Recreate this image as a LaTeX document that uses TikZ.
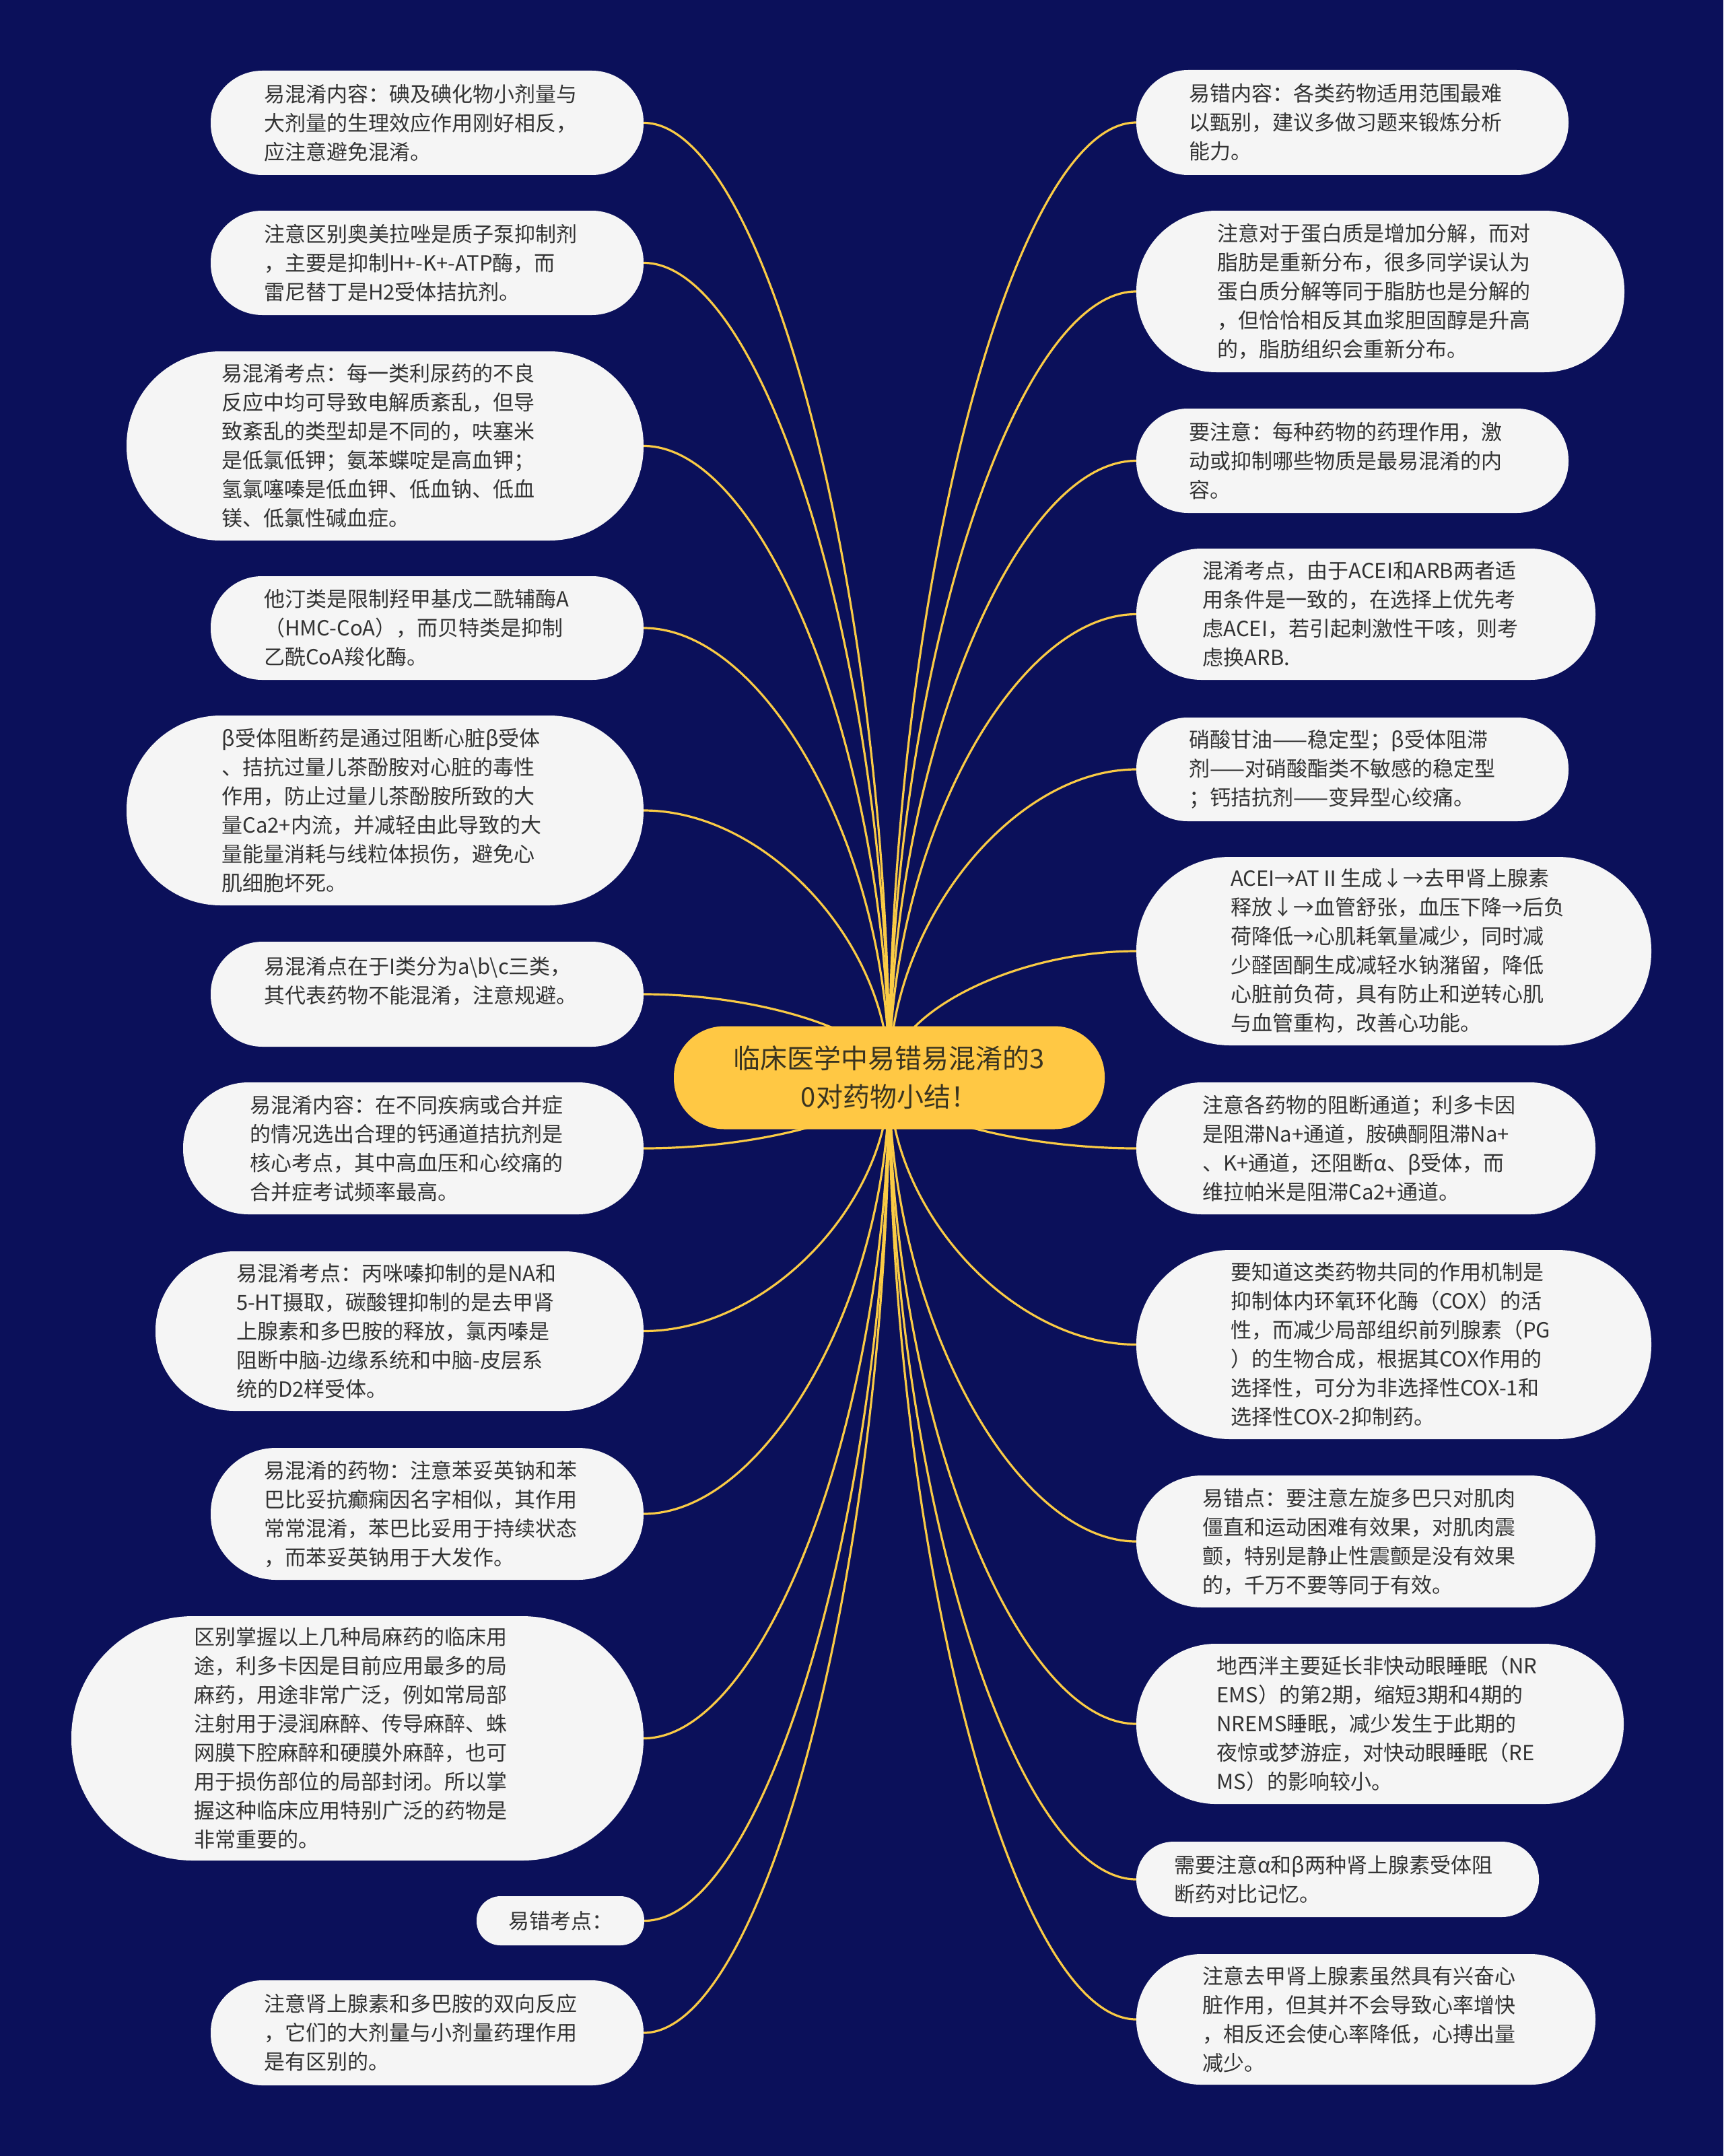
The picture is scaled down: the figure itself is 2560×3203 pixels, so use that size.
\documentclass[tikz,border=0pt]{standalone}
\usepackage{fontspec}
\setmainfont{Noto Sans CJK SC}
\usetikzlibrary{calc}
\definecolor{bgc}{HTML}{0B105A}
\definecolor{leafc}{HTML}{F5F5F5}
\definecolor{linec}{HTML}{FACB45}
\definecolor{ctrc}{HTML}{FFC844}
\definecolor{txtc}{HTML}{333333}
\definecolor{ctxt}{HTML}{3A3420}
\pgfdeclarelayer{back}
\pgfdeclarelayer{lines}
\pgfsetlayers{back,lines,main}
\tikzset{
  leaf/.style={fill=leafc, text=txtc, inner sep=0pt, align=left, text width=485pt,
    font=\fontsize{31pt}{43pt}\selectfont},
  shortleaf/.style={fill=leafc, text=txtc, inner sep=0pt, align=left,
    font=\fontsize{31pt}{43pt}\selectfont},
  ctrnode/.style={fill=ctrc, text=ctxt, inner sep=0pt, align=center,
    font=\fontsize{40pt}{57pt}\selectfont},
  conn/.style={draw=linec, line width=3.2pt}
}
\newcommand\leafnode[7][leaf]{%
  \pgfmathsetmacro\lw{#5-#3}%
  \pgfmathsetmacro\lh{#6-#4}%
  \pgfmathsetmacro\lx{(#3+#5)/2}%
  \pgfmathsetmacro\ly{(#4+#6)/2}%
  \pgfmathsetmacro\lr{\lh/2-1}%
  \node[#1, minimum width=\lw pt, minimum height=\lh pt, rounded corners=\lr pt] (#2) at (\lx,\ly) {#7};%
}
\newcommand\mmlink[2]{%
  \draw[conn] (ctr.center) .. controls ($(ctr.center)!0.5!(ctr.center |- #1.#2)$)
    and ($(ctr.center |- #1.#2)!0.5!(#1.#2)$) .. (#1.#2);%
}
\begin{document}
\begin{tikzpicture}[x=1pt,y=-1pt]
\begin{pgfonlayer}{back}
  \fill[bgc] (0,0) rectangle (2560,3203);
\end{pgfonlayer}
\useasboundingbox (0,0) rectangle (2560,3203);

\node[ctrnode, minimum width=640pt, minimum height=153pt, rounded corners=75pt] (ctr) at (1321,1601)
  {临床医学中易错易混淆的3\\0对药物小结！};

% left side
\leafnode{L1}{313}{105}{956}{260}{易混淆内容：碘及碘化物小剂量与\\大剂量的生理效应作用刚好相反，\\应注意避免混淆。}
\leafnode{L2}{313}{313}{956}{468}{注意区别奥美拉唑是质子泵抑制剂\\，主要是抑制H+-K+-ATP酶，而\\雷尼替丁是H2受体拮抗剂。}
\leafnode{L3}{188}{522}{956}{803}{易混淆考点：每一类利尿药的不良\\反应中均可导致电解质紊乱，但导\\致紊乱的类型却是不同的，呋塞米\\是低氯低钾；氨苯蝶啶是高血钾；\\氢氯噻嗪是低血钾、低血钠、低血\\镁、低氯性碱血症。}
\leafnode{L4}{313}{856}{956}{1010}{他汀类是限制羟甲基戊二酰辅酶A\\（HMC-CoA），而贝特类是抑制\\乙酰CoA羧化酶。}
\leafnode{L5}{188}{1063}{956}{1345}{β受体阻断药是通过阻断心脏β受体\\、拮抗过量儿茶酚胺对心脏的毒性\\作用，防止过量儿茶酚胺所致的大\\量Ca2+内流，并减轻由此导致的大\\量能量消耗与线粒体损伤，避免心\\肌细胞坏死。}
\leafnode{L6}{313}{1399}{956}{1555}{易混淆点在于I类分为a\textbackslash b\textbackslash c三类，\\其代表药物不能混淆，注意规避。\\\mbox{}}
\leafnode{L7}{272}{1608}{956}{1804}{易混淆内容：在不同疾病或合并症\\的情况选出合理的钙通道拮抗剂是\\核心考点，其中高血压和心绞痛的\\合并症考试频率最高。}
\leafnode{L8}{231}{1859}{956}{2096}{易混淆考点：丙咪嗪抑制的是NA和\\5-HT摄取，碳酸锂抑制的是去甲肾\\上腺素和多巴胺的释放，氯丙嗪是\\阻断中脑-边缘系统和中脑-皮层系\\统的D2样受体。}
\leafnode{L9}{313}{2151}{956}{2347}{易混淆的药物：注意苯妥英钠和苯\\巴比妥抗癫痫因名字相似，其作用\\常常混淆，苯巴比妥用于持续状态\\，而苯妥英钠用于大发作。}
\leafnode{L10}{106}{2401}{956}{2764}{区别掌握以上几种局麻药的临床用\\途，利多卡因是目前应用最多的局\\麻药，用途非常广泛，例如常局部\\注射用于浸润麻醉、传导麻醉、蛛\\网膜下腔麻醉和硬膜外麻醉，也可\\用于损伤部位的局部封闭。所以掌\\握这种临床应用特别广泛的药物是\\非常重要的。}
\leafnode[shortleaf]{L11}{708}{2817}{957}{2890}{易错考点：}
\leafnode{L12}{313}{2942}{956}{3098}{注意肾上腺素和多巴胺的双向反应\\，它们的大剂量与小剂量药理作用\\是有区别的。}

% right side
\leafnode{R1}{1688}{104}{2330}{260}{易错内容：各类药物适用范围最难\\以甄别，建议多做习题来锻炼分析\\能力。}
\leafnode{R2}{1688}{313}{2413}{553}{注意对于蛋白质是增加分解，而对\\脂肪是重新分布，很多同学误认为\\蛋白质分解等同于脂肪也是分解的\\，但恰恰相反其血浆胆固醇是升高\\的，脂肪组织会重新分布。}
\leafnode{R3}{1688}{607}{2330}{762}{要注意：每种药物的药理作用，激\\动或抑制哪些物质是最易混淆的内\\容。}
\leafnode{R4}{1688}{815}{2370}{1010}{混淆考点，由于ACEI和ARB两者适\\用条件是一致的，在选择上优先考\\虑ACEI，若引起刺激性干咳，则考\\虑换ARB.}
\leafnode{R5}{1688}{1066}{2330}{1220}{硝酸甘油——稳定型；β受体阻滞\\剂——对硝酸酯类不敏感的稳定型\\；钙拮抗剂——变异型心绞痛。}
\leafnode{R6}{1688}{1273}{2453}{1553}{ACEI→ATⅡ生成↓→去甲肾上腺素\\释放↓→血管舒张，血压下降→后负\\荷降低→心肌耗氧量减少，同时减\\少醛固酮生成减轻水钠潴留，降低\\心脏前负荷，具有防止和逆转心肌\\与血管重构，改善心功能。}
\leafnode{R7}{1688}{1608}{2370}{1804}{注意各药物的阻断通道；利多卡因\\是阻滞Na+通道，胺碘酮阻滞Na+\\、K+通道，还阻断α、β受体，而\\维拉帕米是阻滞Ca2+通道。}
\leafnode{R8}{1688}{1857}{2453}{2138}{要知道这类药物共同的作用机制是\\抑制体内环氧环化酶（COX）的活\\性，而减少局部组织前列腺素（PG\\）的生物合成，根据其COX作用的\\选择性，可分为非选择性COX-1和\\选择性COX-2抑制药。}
\leafnode{R9}{1688}{2192}{2370}{2388}{易错点：要注意左旋多巴只对肌肉\\僵直和运动困难有效果，对肌肉震\\颤，特别是静止性震颤是没有效果\\的，千万不要等同于有效。}
\leafnode{R10}{1688}{2442}{2412}{2680}{地西泮主要延长非快动眼睡眠（NR\\EMS）的第2期，缩短3期和4期的\\NREMS睡眠，减少发生于此期的\\夜惊或梦游症，对快动眼睡眠（RE\\MS）的影响较小。}
\leafnode{R11}{1688}{2736}{2286}{2848}{需要注意α和β两种肾上腺素受体阻\\断药对比记忆。}
\leafnode{R12}{1688}{2903}{2370}{3097}{注意去甲肾上腺素虽然具有兴奋心\\脏作用，但其并不会导致心率增快\\，相反还会使心率降低，心搏出量\\减少。}

\begin{pgfonlayer}{lines}
\foreach \n in {L1,L2,L3,L4,L5,L6,L7,L8,L9,L10,L11,L12} {\mmlink{\n}{east}}
\foreach \n in {R1,R2,R3,R4,R5,R6,R7,R8,R9,R10,R11,R12} {\mmlink{\n}{west}}
\end{pgfonlayer}
\end{tikzpicture}
\end{document}
